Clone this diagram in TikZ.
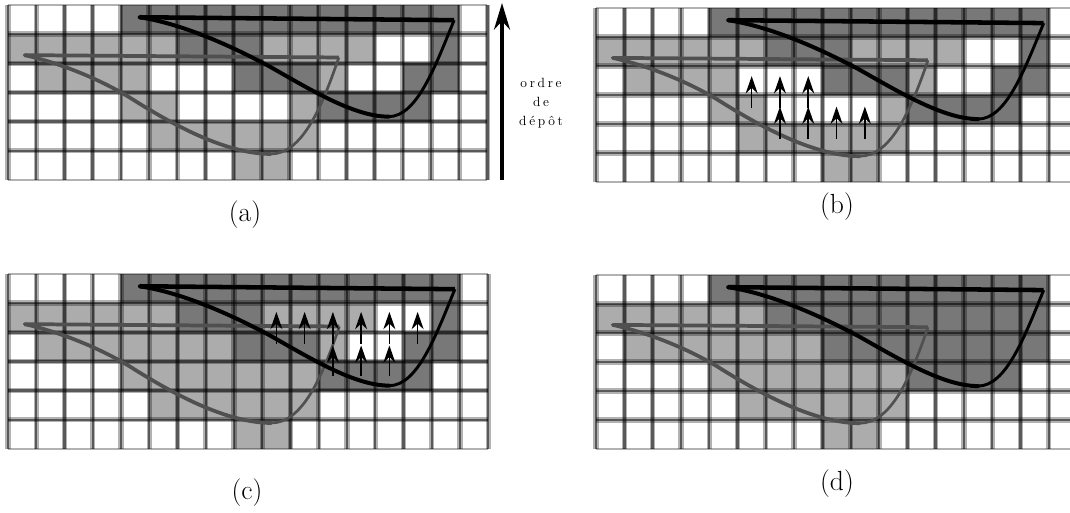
\documentclass[tikz,border=0pt]{standalone}
\usepackage{fontspec}
\setmainfont{Latin Modern Roman}
\usepackage{xcolor}
\usetikzlibrary{arrows.meta}
\definecolor{celldark}{RGB}{120, 120, 120}
\definecolor{celllight}{RGB}{172, 172, 172}
\definecolor{traygray}{RGB}{80, 80, 80}
\tikzset{
  gridsoft/.style={black, opacity=0.3, line width=4pt},
  gridcore/.style={black, opacity=0.5, line width=1.8pt},
  depot/.style={-{Stealth[length=13pt,width=9pt]}, line width=1.2pt},
  panellabel/.style={font=\huge},
}
\newcommand{\paintcells}[3]{\foreach \c in {#3} \fill[#1] (\c,#2) rectangle ++(1,1);}
\newcommand{\basecells}{
\paintcells{celldark}{0}{4,...,15}
\paintcells{celllight}{1}{0,...,5,9,10,11,12}
\paintcells{celldark}{1}{6,7,8,15}
\paintcells{celllight}{2}{1,2,3,4,11}
\paintcells{celldark}{2}{8,9,10,14,15}
\paintcells{celllight}{3}{4,5,10}
\paintcells{celldark}{3}{11,12,13,14}
\paintcells{celllight}{4}{5,6,7,8,9,10}
\paintcells{celllight}{5}{8,9}
}
\newcommand{\gridcurves}{
\foreach \c in {0,...,17} {
\draw[gridsoft] (\c,0) -- (\c,6);
\draw[gridcore] (\c,0) -- (\c,6);
}
\foreach \r in {1,...,5} {
\draw[gridsoft] (0,\r) -- (17,\r);
\draw[gridcore] (0,\r) -- (17,\r);
}
\draw[black, opacity=0.3, line width=1.8pt] (0,0) -- (17,0);
\draw[black, opacity=0.3, line width=1.8pt] (0,6) -- (17,6);
\draw[traygray, line width=2.8pt] (0.59,1.72) -- (11.73,1.8);
\draw[traygray, line width=2.8pt, line cap=round] (0.59,1.72) .. controls (1.9,2) and (3.4,2.6) .. (4.49,3.28) .. controls (5.8,4.07) and (7.7,5.11) .. (9.32,5.11);
\draw[traygray, line width=2pt] (9.32,5.11) .. controls (10.4,5.11) and (11.1,3.6) .. (11.73,1.8);
\draw[black, line width=3.4pt] (4.67,0.42) -- (15.82,0.52);
\draw[black, line width=3pt, line cap=round] (4.67,0.42) .. controls (6.2,0.65) and (7.9,1.4) .. (9.26,2.1) .. controls (10.8,2.95) and (12.3,3.83) .. (13.5,3.83);
\draw[black, line width=2.2pt] (13.5,3.83) .. controls (14.5,3.83) and (15.15,2.1) .. (15.82,0.52);
}
\begin{document}
\begin{tikzpicture}[x=0.75pt,y=-0.75pt]
\useasboundingbox (0,0) rectangle (1070,512);
\clip (0,0) rectangle (1070,512);
\begin{scope}[shift={(8,5)},xscale=28.2,yscale=29.15]
\basecells
\gridcurves
\end{scope}
\begin{scope}[shift={(596,8)},xscale=28.3,yscale=29]
\basecells
\gridcurves
\foreach \c in {6.5,7.5,8.5,9.5}
\draw[depot] (\c,4.5) -- (\c,3.4);
\foreach \c in {5.5,6.5,7.5}
\draw[depot] (\c,3.45) -- (\c,2.35);
\end{scope}
\begin{scope}[shift={(8,274)},xscale=28.25,yscale=29.15]
\basecells
\paintcells{celllight}{2}{5,6,7}
\paintcells{celllight}{3}{6,7,8,9}
\gridcurves
\foreach \c in {11.5,12.5,13.5}
\draw[depot] (\c,3.5) -- (\c,2.45);
\foreach \c in {9.5,10.5,...,14.5}
\draw[depot] (\c,2.4) -- (\c,1.3);
\end{scope}
\begin{scope}[shift={(596,275)},xscale=28.3,yscale=29]
\basecells
\paintcells{celllight}{2}{5,6,7}
\paintcells{celllight}{3}{6,7,8,9}
\paintcells{celldark}{1}{9,...,14}
\paintcells{celldark}{2}{11,12,13}
\gridcurves
\end{scope}
\coordinate (ordrebas) at (502,180);
\coordinate (ordrehaut) at (502,3);
\draw[-{Stealth[length=20pt,width=12pt]}, line width=2.6pt] (ordrebas) -- (ordrehaut);
\node[align=center, font=\fontsize{10}{14.3}\selectfont\addfontfeature{LetterSpace=20}] (ordre) at (541,103) {ordre\\de\\dépôt};
\node[panellabel] (labela) at (245,215) {(a)};
\node[panellabel] (labelb) at (837,207) {(b)};
\node[panellabel] (labelc) at (247,493) {(c)};
\node[panellabel] (labeld) at (837,484) {(d)};
\end{tikzpicture}
\end{document}
